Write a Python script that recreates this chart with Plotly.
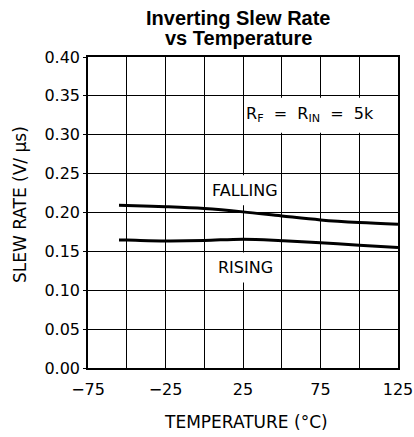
import plotly.graph_objects as go

# Data
temps = [-55, -50, -25, 0, 25, 50, 75, 100, 125]
falling = [0.2094, 0.2090, 0.2074, 0.2050, 0.2008, 0.1955, 0.1905, 0.1872, 0.1850]
rising = [0.1645, 0.1645, 0.1635, 0.1640, 0.1657, 0.1638, 0.1610, 0.1580, 0.1550]

x_tickvals = [-75, -25, 25, 75, 125]
x_ticktext = ["\u221275", "\u221225", "25", "75", "125"]
x_minor_grid = [-50, 0, 50, 100]
y_tickvals = [0.00, 0.05, 0.10, 0.15, 0.20, 0.25, 0.30, 0.35, 0.40]
y_ticktext = ["0.00", "0.05", "0.10", "0.15", "0.20", "0.25", "0.30", "0.35", "0.40"]

title_lines = ["Inverting Slew Rate", "vs Temperature"]
x_title = "TEMPERATURE (\u00b0C)"
y_title = "SLEW RATE (V/ \u03bcs)"

FONT = "DejaVu Sans"

fig = go.Figure()
fig.add_trace(go.Scatter(x=temps, y=falling, mode="lines", name="FALLING",
                         line=dict(color="black", width=3, shape="spline"), showlegend=False))
fig.add_trace(go.Scatter(x=temps, y=rising, mode="lines", name="RISING",
                         line=dict(color="black", width=3, shape="spline"), showlegend=False))

fig.update_layout(
    width=414, height=437,
    margin=dict(l=88, r=16, t=57, b=69, autoexpand=False),
    paper_bgcolor="white", plot_bgcolor="white",
    xaxis=dict(range=[-75, 125], tickvals=x_tickvals, ticktext=x_ticktext,
               showgrid=True, gridcolor="black", gridwidth=1,
               minor=dict(tickvals=x_minor_grid, showgrid=True, gridcolor="black",
                          gridwidth=1, ticks=""),
               showline=True, linecolor="black", linewidth=1.5, mirror=True,
               zeroline=False, ticks="", ticklabelstandoff=6, automargin=False,
               tickfont=dict(family=FONT, size=16, color="black")),
    yaxis=dict(range=[0, 0.40], tickvals=y_tickvals, ticktext=y_ticktext,
               showgrid=True, gridcolor="black", gridwidth=1,
               showline=True, linecolor="black", linewidth=1.5, mirror=True,
               zeroline=False, ticks="outside", ticklen=3, tickcolor="black",
               automargin=False,
               tickfont=dict(family=FONT, size=16, color="black")),
)

# Title as two annotation lines (paper coords above the plot)
fig.add_annotation(x=0.4839, y=1.127, xref="paper", yref="paper", text="<b>%s</b>" % title_lines[0],
                   showarrow=False, xanchor="center", yanchor="middle",
                   font=dict(family="Liberation Sans", size=20, color="black"))
fig.add_annotation(x=0.4839, y=1.0627, xref="paper", yref="paper", text="<b>%s</b>" % title_lines[1],
                   showarrow=False, xanchor="center", yanchor="middle",
                   font=dict(family="Liberation Sans", size=20, color="black"))

# Axis titles
fig.add_annotation(x=0.511, y=-0.1736, xref="paper", yref="paper", text=x_title,
                   showarrow=False, xanchor="center", yanchor="middle",
                   font=dict(family=FONT, size=17, color="black"))
fig.add_annotation(x=-0.2194, y=0.527, xref="paper", yref="paper", text=y_title,
                   showarrow=False, xanchor="center", yanchor="middle", textangle=-90,
                   font=dict(family=FONT, size=17, color="black"))

# White label boxes that interrupt the grid
white = dict(type="rect", xref="x", yref="y", fillcolor="white", line=dict(width=0), layer="above")
fig.add_shape(x0=26.5, x1=124.2, y0=0.3025, y1=0.3475, **white)
fig.add_shape(x0=1.5, x1=49.3, y0=0.2094, y1=0.2478, **white)
fig.add_shape(x0=1.5, x1=49.3, y0=0.1100, y1=0.1487, **white)

fig.add_annotation(x=68.4, y=0.3255, xref="x", yref="y",
                   text="R<sub>F</sub>  =  R<sub>IN</sub>  =  5k",
                   showarrow=False, font=dict(family=FONT, size=16, color="black"))
fig.add_annotation(x=26.6, y=0.2285, xref="x", yref="y", text="FALLING",
                   showarrow=False, font=dict(family=FONT, size=16, color="black"))
fig.add_annotation(x=26.6, y=0.129, xref="x", yref="y", text="RISING",
                   showarrow=False, font=dict(family=FONT, size=16, color="black"))

fig.write_html("out.html", config={"displayModeBar": False},
               post_script="document.body.style.margin='0px';")
